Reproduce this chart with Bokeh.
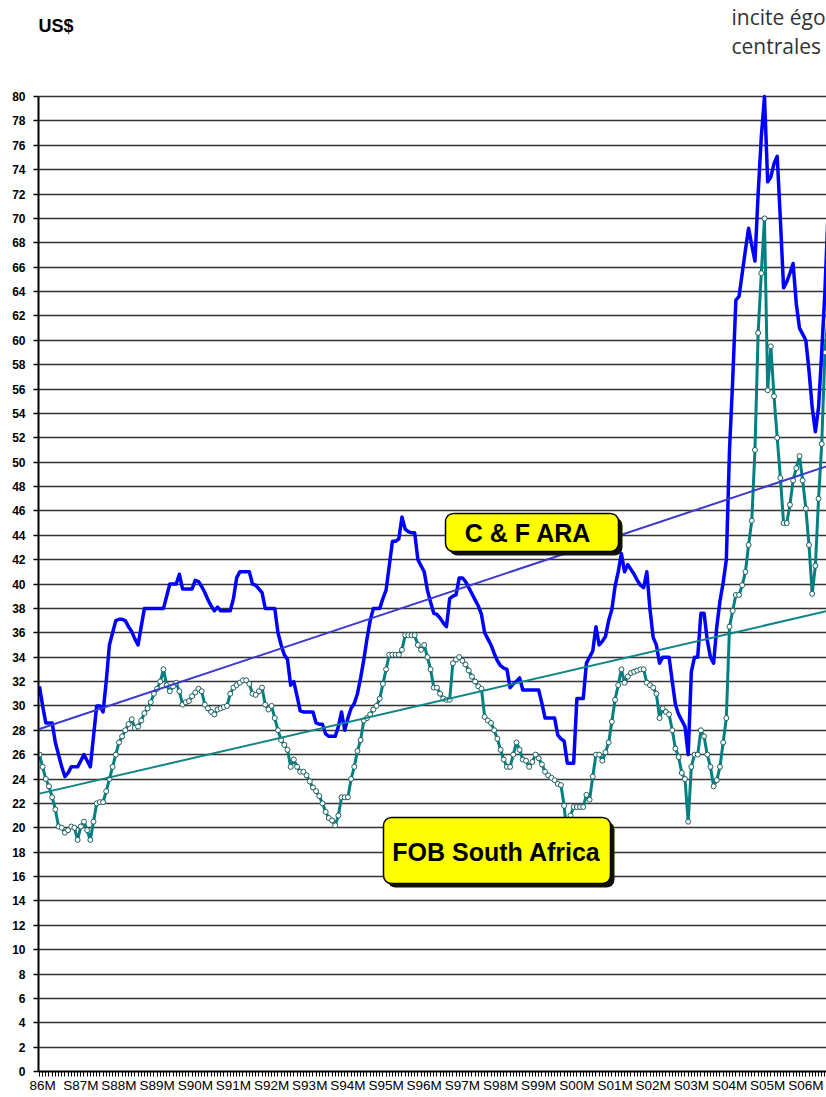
from bokeh.plotting import figure
from bokeh.models import FixedTicker, Range1d, BoxAnnotation, Label
from bokeh.embed import file_html
from bokeh.resources import INLINE

# ---------------- data (monthly index, US$) ----------------
months = list(range(249))

cf_ara = [
    31.6, 30.0, 28.6, 28.6, 28.6, 27.0, 26.0, 25.0, 24.2, 24.5,
    25.0, 25.0, 25.0, 25.5, 26.0, 25.5, 25.0, 27.5, 30.0, 30.0,
    29.5, 32.0, 35.0, 36.0, 37.0, 37.1, 37.1, 37.0, 36.5, 36.1,
    35.5, 35.0, 36.5, 38.0, 38.0, 38.0, 38.0, 38.0, 38.0, 38.0,
    39.0, 40.0, 40.0, 40.0, 40.8, 39.6, 39.6, 39.6, 39.6, 40.3,
    40.2, 39.8, 39.3, 38.7, 38.2, 37.8, 38.1, 37.8, 37.8, 37.8,
    37.8, 38.8, 40.5, 41.0, 41.0, 41.0, 41.0, 40.0, 39.9, 39.6,
    39.3, 38.0, 38.0, 38.0, 38.0, 36.0, 35.0, 34.2, 33.8, 31.7,
    32.0, 30.8, 29.6, 29.5, 29.5, 29.5, 29.5, 28.6, 28.5, 28.5,
    27.7, 27.5, 27.5, 27.5, 28.3, 29.5, 28.0, 29.0, 29.8, 30.2,
    31.0, 32.3, 33.8, 35.5, 37.0, 38.0, 38.0, 38.0, 38.8, 39.5,
    41.5, 43.5, 43.5, 43.7, 45.5, 44.5, 44.3, 44.2, 44.2, 42.0,
    41.5, 41.0, 39.5, 38.5, 37.6, 37.5, 37.2, 36.8, 36.5, 38.8,
    39.0, 39.1, 40.5, 40.5, 40.2, 39.7, 39.2, 38.7, 38.2, 37.5,
    36.0, 35.5, 35.0, 34.3, 33.7, 33.3, 33.1, 33.0, 31.5, 31.8,
    32.0, 32.3, 31.3, 31.3, 31.3, 31.3, 31.3, 31.3, 30.2, 29.0,
    29.0, 29.0, 29.0, 27.6, 27.3, 27.1, 25.3, 25.3, 25.3, 30.6,
    30.6, 30.6, 33.5, 34.0, 34.5, 36.5, 35.0, 35.3, 35.7, 37.0,
    37.9, 39.8, 41.0, 42.5, 41.0, 41.6, 41.2, 40.8, 40.3, 39.9,
    39.7, 41.0, 37.9, 35.6, 35.0, 33.5, 34.0, 34.0, 34.0, 32.0,
    30.1, 29.3, 28.8, 28.3, 26.0, 32.8, 34.0, 34.0, 37.6, 37.6,
    35.4, 34.0, 33.5, 36.5, 38.6, 40.1, 42.0, 51.0, 56.7, 63.3,
    63.6, 65.5, 67.4, 69.2, 67.8, 66.5, 72.0, 76.7, 80.0, 73.0,
    73.4, 74.5, 75.1, 69.9, 64.3, 64.8, 65.5, 66.3, 63.0, 61.0,
    60.5, 60.0, 57.5, 54.5, 52.5, 54.5, 59.0, 64.0, 70.5,
]

fob_sa = [
    26.0, 25.0, 24.0, 23.4, 22.5, 21.5, 20.1, 20.0, 19.6, 19.8,
    20.1, 20.0, 19.0, 20.1, 20.5, 19.8, 19.0, 20.5, 22.0, 22.1,
    22.1, 23.0, 24.0, 25.0, 26.0, 27.0, 27.5, 28.0, 28.5, 28.9,
    28.2, 28.3, 28.8, 29.4, 29.8, 30.3, 31.0, 31.4, 32.0, 33.0,
    31.7, 31.2, 31.6, 31.9, 31.2, 30.1, 30.3, 30.4, 30.8, 31.1,
    31.4, 31.2, 30.1, 29.8, 29.5, 29.3, 29.7, 29.8, 29.9, 30.0,
    31.0, 31.5, 31.7, 31.9, 32.1, 32.1, 31.8, 31.0, 30.9, 31.2,
    31.5, 30.1, 29.7, 30.0, 29.0, 28.0, 27.2, 26.8, 26.4, 25.0,
    25.6, 25.0, 24.6, 24.6, 24.3, 23.8, 23.3, 23.0, 22.6, 22.0,
    21.3, 20.8, 20.6, 20.2, 21.0, 22.5, 22.5, 22.5, 24.0, 25.0,
    26.3, 27.2, 28.8, 29.0, 29.3, 29.7, 30.0, 30.6, 31.8, 33.0,
    34.2, 34.2, 34.2, 34.2, 34.6, 35.8, 35.8, 35.8, 35.8, 35.0,
    34.6, 35.0, 34.0, 33.0, 31.5, 31.5, 31.0, 30.6, 30.5, 30.5,
    33.5, 33.8, 34.0, 33.7, 33.4, 32.9, 32.4, 32.0, 31.6, 31.4,
    29.1, 28.8, 28.6, 28.0, 27.3, 26.4, 25.6, 25.0, 25.0, 26.0,
    27.0, 26.4, 25.6, 25.5, 25.0, 25.4, 26.0, 25.7, 25.2, 24.6,
    24.3, 24.1, 23.9, 23.6, 23.5, 21.8, 19.0, 21.0, 21.7, 21.7,
    21.7, 21.7, 22.7, 22.3, 24.2, 26.0, 26.0, 25.5, 26.2, 27.0,
    28.7, 30.5, 31.7, 33.0, 31.9, 32.4, 32.7, 32.8, 32.9, 33.0,
    33.0, 31.9, 31.7, 31.5, 31.0, 29.0, 29.8, 29.5, 29.3, 28.0,
    26.5, 25.8, 24.5, 24.0, 20.5, 25.0, 26.0, 26.0, 28.0, 27.5,
    26.0, 25.0, 23.4, 23.9, 25.0, 27.0, 29.0, 36.5, 37.8, 39.1,
    39.1, 39.9, 41.0, 43.2, 45.2, 51.0, 60.6, 65.5, 70.0, 55.9,
    59.5, 55.4, 52.0, 48.7, 45.0, 45.0, 46.5, 48.5, 49.5, 50.5,
    48.5, 46.2, 43.2, 39.2, 41.5, 47.0, 51.5, 59.0, 62.0,
]

year_labels = ["86M", "S87M", "S88M", "S89M", "S90M", "S91M", "S92M", "S93M",
               "S94M", "S95M", "S96M", "S97M", "S98M", "S99M", "S00M", "S01M",
               "S02M", "S03M", "S04M", "S05M", "S06M"]
label_months = [1 + 12 * k for k in range(len(year_labels))]
y_ticks = list(range(0, 81, 2))

trend_months = [0, 248]
cf_trend = [28.1, 49.7]
fob_trend = [22.8, 37.8]

# ---------------- figure ----------------
# frame covers the whole height above the x axis; the value axis is bounded to 0..80
p = figure(width=826, height=1097, output_backend="svg", toolbar_location=None,
           x_range=Range1d(-0.3, 247.5), y_range=Range1d(0, 87.88),
           min_border_left=38, min_border_right=0, min_border_top=0,
           min_border_bottom=26, outline_line_color=None,
           background_fill_color="white", border_fill_color="white")

# grid
p.xgrid.visible = False
p.ygrid.ticker = FixedTicker(ticks=y_ticks)
p.ygrid.grid_line_color = "#333333"
p.ygrid.grid_line_width = 1.5

# y axis
p.yaxis.ticker = FixedTicker(ticks=y_ticks)
p.yaxis.bounds = (0, 80)
p.yaxis.axis_line_color = "black"
p.yaxis.axis_line_width = 2
p.yaxis.major_tick_in = 0
p.yaxis.major_tick_out = 5
p.yaxis.major_tick_line_width = 1.5
p.yaxis.minor_tick_line_color = None
p.yaxis.major_label_standoff = 8
p.yaxis.major_label_text_font = "Liberation Sans"
p.yaxis.major_label_text_font_style = "bold"
p.yaxis.major_label_text_font_size = "12px"
p.yaxis.major_label_text_color = "black"

# x axis
p.xaxis.ticker = FixedTicker(ticks=label_months, minor_ticks=months)
p.xaxis.major_label_overrides = {m: s for m, s in zip(label_months, year_labels)}
p.xaxis.axis_line_color = "black"
p.xaxis.axis_line_width = 2
p.xaxis.major_tick_in = 0
p.xaxis.major_tick_out = 5
p.xaxis.minor_tick_in = 0
p.xaxis.minor_tick_out = 5
p.xaxis.major_tick_line_color = "black"
p.xaxis.minor_tick_line_color = "black"
p.xaxis.major_tick_line_width = 1
p.xaxis.minor_tick_line_width = 1
p.xaxis.major_label_standoff = 1
p.xaxis.major_label_text_font = "Liberation Sans"
p.xaxis.major_label_text_font_size = "13.5px"
p.xaxis.major_label_text_color = "black"

# series
p.line(months, fob_sa, line_color="#008080", line_width=3, line_join="round")
p.scatter(months, fob_sa, marker="circle", size=5, fill_color="white",
          line_color="#1f5f5f", line_width=1)
p.line(months, cf_ara, line_color="#0000FF", line_width=3.5, line_join="round")

# trend lines
p.line(trend_months, cf_trend, line_color="#3a3acc", line_width=2)
p.line(trend_months, fob_trend, line_color="#0f8585", line_width=2)

# callout boxes (screen units: x from frame left, y up from frame bottom)
def callout(left, right, top, bottom, text, cx, cy):
    p.add_layout(BoxAnnotation(left=left + 4, right=right + 4, top=top - 4, bottom=bottom - 4,
                               left_units="screen", right_units="screen",
                               top_units="screen", bottom_units="screen",
                               fill_color="#111111", fill_alpha=1, line_color=None,
                               border_radius=8))
    p.add_layout(BoxAnnotation(left=left, right=right, top=top, bottom=bottom,
                               left_units="screen", right_units="screen",
                               top_units="screen", bottom_units="screen",
                               fill_color="#FFFF00", fill_alpha=1, line_color="black",
                               line_alpha=1, line_width=1.5, border_radius=8))
    p.add_layout(Label(x=cx, y=cy, x_units="screen", y_units="screen", text=text,
                       text_align="center", text_baseline="middle",
                       text_font="Liberation Sans", text_font_style="bold",
                       text_font_size="25px", text_color="black"))

callout(407, 580, 558, 520, "C & F  ARA", 493, 539)
callout(345, 572, 254, 188, "FOB South Africa", 458, 220)

# header texts
p.add_layout(Label(x=0, y=1046, x_units="screen", y_units="screen", text="US$",
                   text_align="left", text_baseline="middle",
                   text_font="Liberation Sans", text_font_style="bold",
                   text_font_size="18px", text_color="black"))
p.add_layout(Label(x=693, y=1055, x_units="screen", y_units="screen", text="incite égo",
                   text_align="left", text_baseline="middle",
                   text_font="Open Sans", text_font_size="21px", text_color="#333333"))
p.add_layout(Label(x=693, y=1026, x_units="screen", y_units="screen", text="centrales",
                   text_align="left", text_baseline="middle",
                   text_font="Open Sans", text_font_size="21px", text_color="#333333"))

open("out.html", "w").write(file_html(p, INLINE))
